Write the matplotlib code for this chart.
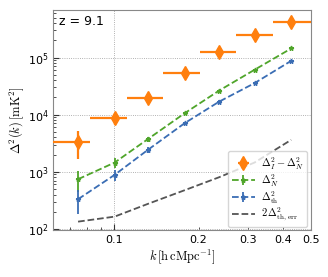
"""
Power spectrum at z = 9.1: Delta^2_I - Delta^2_N against noise and thermal terms
"""
import numpy as np
import matplotlib
matplotlib.use("Agg")
import matplotlib.pyplot as plt
from matplotlib.ticker import FuncFormatter, LogLocator
from matplotlib.font_manager import FontProperties

# k bins (h cMpc^-1)
k_centers = [0.0746, 0.1006, 0.132, 0.1785, 0.2366, 0.316, 0.4265]
k_edges = [0.06, 0.0824, 0.1117, 0.1498, 0.2020, 0.2716, 0.367, 0.5]

# Delta^2_I - Delta^2_N
excess = [3380, 8690, 19950, 54600, 127000, 250000, 427000]
excess_err = [1700, 2000, 2500, 5000, 10000, 20000, 30000]

# Delta^2_N
noise = [741, 1449, 3726, 10600, 26400, 61000, 144000]
noise_err = [300, 270, 370, 600, 1000, 2000, 3000]

# Delta^2_th
thermal = [331, 883, 2415, 7100, 16900, 35600, 87500]
thermal_err = [150, 190, 250, 400, 800, 1500, 3000]

# 2 Delta^2_th,err
thermal_err2 = [134, 164, 274, 476, 803, 1450, 3620]

c_orange = "#ff7f0e"
c_green = "#4fa52a"
c_blue = "#3a6db4"
c_gray = "#555555"

kc = np.array(k_centers)
ke = np.array(k_edges)
xerr = np.vstack([kc - ke[:-1], ke[1:] - kc])

fig = plt.figure(figsize=(3.28, 2.77), dpi=100)
ax = fig.add_axes([0.163, 0.170, 0.784, 0.794])

h1 = ax.errorbar(kc, excess, xerr=xerr, yerr=excess_err, fmt="d", color=c_orange,
                 ms=7, elinewidth=1.6, capsize=0, label=r"$\Delta^2_I - \Delta^2_N$", zorder=4)
h2 = ax.errorbar(kc, noise, yerr=noise_err, fmt="--*", color=c_green, ms=3.5,
                 lw=1.3, elinewidth=1.3, capsize=0, label=r"$\Delta^2_N$", zorder=3)
h3 = ax.errorbar(kc, thermal, yerr=thermal_err, fmt="--*", color=c_blue, ms=3.5,
                 lw=1.3, elinewidth=1.3, capsize=0, label=r"$\Delta^2_{\rm th}$", zorder=3)
h4, = ax.plot(kc, thermal_err2, "--", color=c_gray, lw=1.3,
              label=r"$2\,\Delta^2_{\rm th,err}$", zorder=3)

ax.set_xscale("log")
ax.set_yscale("log")
ax.set_xlim(0.061, 0.5)
ax.set_ylim(96, 6.8e5)

ax.xaxis.set_major_locator(LogLocator(base=10))
labelled = (0.2, 0.3, 0.4, 0.5)
ax.xaxis.set_minor_formatter(
    FuncFormatter(lambda v, _: f"{v:g}" if round(v, 2) in labelled else ""))
ax.xaxis.set_major_formatter(FuncFormatter(lambda v, _: f"{v:g}"))

ax.tick_params(which="both", direction="in", labelsize=8, color="#333333")
ax.tick_params(which="major", length=4, width=0.8)
ax.tick_params(which="minor", length=2, width=0.6)
ax.grid(which="major", ls=":", lw=0.6, color="#999999")
for s in ax.spines.values():
    s.set_color("#888888")

cm = FontProperties(size=9, math_fontfamily="cm")
ax.set_xlabel(r"$k\,[\mathrm{h\,cMpc^{-1}}]$", fontproperties=cm, labelpad=2)
ax.set_ylabel(r"$\Delta^2(k)\,[\mathrm{mK}^2]$", fontproperties=cm, labelpad=1)

ax.text(0.02, 0.975, "z = 9.1", transform=ax.transAxes, ha="left", va="top", fontsize=9)

handles = [h1, h2, h3, h4]
ax.legend(handles, [h.get_label() for h in handles], loc="lower right",
          prop=FontProperties(size=7.5, math_fontfamily="cm"),
          framealpha=0.8, borderaxespad=0.3, handlelength=2.2,
          labelspacing=0.05, borderpad=0.35, handletextpad=0.6)

fig.savefig("out.png", dpi=100)
